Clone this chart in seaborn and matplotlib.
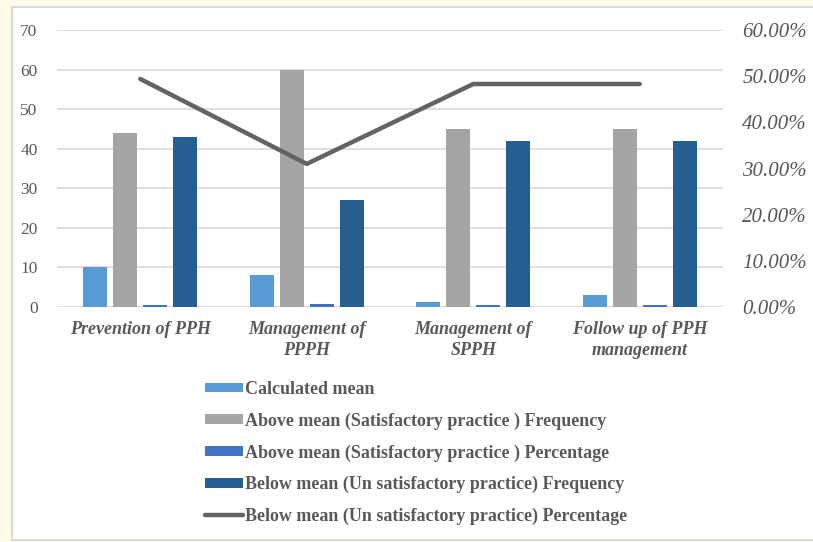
import numpy as np
import pandas as pd
import matplotlib
matplotlib.use("Agg")
import matplotlib.pyplot as plt
import seaborn as sns
from matplotlib.patches import Rectangle
from matplotlib.ticker import FuncFormatter

categories = ["Prevention of PPH", "Management of\nPPPH", "Management of\nSPPH",
              "Follow up of PPH\nmanagement"]
calc_mean = [10, 8, 1.2, 3]
above_freq = [44, 60, 45, 45]
above_pct = [0.506, 0.69, 0.517, 0.517]
below_freq = [43, 27, 42, 42]
below_pct = [0.494, 0.310, 0.483, 0.483]

series_names = ["Calculated mean",
                "Above mean (Satisfactory practice ) Frequency",
                "Above mean (Satisfactory practice ) Percentage",
                "Below mean (Un satisfactory practice) Frequency"]
line_name = "Below mean (Un satisfactory practice) Percentage"

bar_colors = ["#5B9BD5", "#A5A5A5", "#4472C4", "#255E91"]
line_color = "#636363"
txt = "#595959"
grid = "#D9D9D9"

sns.set_style("white")
plt.rcParams["font.family"] = ["Liberation Serif", "DejaVu Serif"]

# long table for seaborn
rows = []
for s, vals in zip(series_names, [calc_mean, above_freq, above_pct, below_freq]):
    for c, v in zip(categories, vals):
        rows.append({"cat": c, "series": s, "value": v})
df = pd.DataFrame(rows)

fig = plt.figure(figsize=(8.13, 5.42), dpi=100)
fig.patch.set_facecolor("#FFFBE6")
# white chart panel with thin grey border
fig.add_artist(Rectangle((12 / 813, 2 / 542), 1, 1 - 9 / 542, transform=fig.transFigure,
                         facecolor="white", edgecolor=grid, lw=1.5, zorder=0))

ax = fig.add_axes([57 / 813, 1 - 307 / 542, 666 / 813, 277 / 542])
ax.set_facecolor("none")
sns.barplot(data=df, x="cat", y="value", hue="series", order=categories,
            hue_order=series_names, palette=bar_colors, saturation=1,
            width=0.72, gap=0.2, ax=ax, legend=True, linewidth=0)
ax.set_ylim(0, 70)
ax.set_yticks(range(0, 71, 10))
ax.set_xlim(-0.5, 3.5)
ax.yaxis.grid(True, color=grid, lw=1.2)
ax.set_axisbelow(True)
for sp in ax.spines.values():
    sp.set_visible(False)
ax.set_xlabel("")
ax.set_ylabel("")
ax.tick_params(axis="y", length=0, pad=14, labelsize=12.5, labelcolor=txt)
ax.tick_params(axis="x", length=0, pad=10)
for lab in ax.get_xticklabels():
    lab.set_fontsize(13)
    lab.set_fontweight("bold")
    lab.set_fontstyle("italic")
    lab.set_color(txt)
    lab.set_linespacing(1.3)

ax2 = ax.twinx()
line_df = pd.DataFrame({"x": np.arange(len(categories)), "pct": below_pct})
sns.lineplot(data=line_df, x="x", y="pct", ax=ax2, color=line_color, lw=3.2,
             solid_capstyle="round", label=line_name, legend=False)
ax2.set_ylim(0, 0.6)
ax2.set_yticks(np.arange(0, 0.61, 0.1))
ax2.yaxis.set_major_formatter(FuncFormatter(lambda v, p: f"{v * 100:.2f}%"))
ax2.tick_params(axis="y", length=0, pad=14, labelsize=15, labelcolor=txt)
for lab in ax2.get_yticklabels():
    lab.set_fontstyle("italic")
for sp in ax2.spines.values():
    sp.set_visible(False)
ax2.set_ylabel("")
ax2.set_xlabel("")
ax2.set_xlim(-0.5, 3.5)

handles, labels = ax.get_legend_handles_labels()
ax.get_legend().remove()
h2, l2 = ax2.get_legend_handles_labels()
leg = fig.legend(handles + h2, labels + l2, loc="upper left",
                 bbox_to_anchor=(205 / 813, 1 - 381 / 542), frameon=False,
                 borderpad=0, borderaxespad=0, handlelength=2.1, handleheight=0.45,
                 handletextpad=0.12, labelspacing=0.8,
                 prop={"family": "Liberation Serif", "weight": "bold", "size": 13})
for t in leg.get_texts():
    t.set_color(txt)

fig.savefig("out.png", dpi=100, facecolor=fig.get_facecolor())
